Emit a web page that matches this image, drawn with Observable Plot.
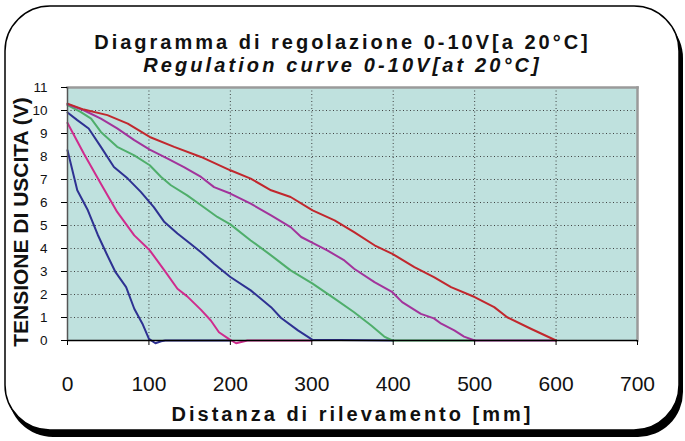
<!DOCTYPE html>
<html>
<head>
<meta charset="utf-8">
<script src="https://cdn.jsdelivr.net/npm/d3@7"></script>
<script src="https://cdn.jsdelivr.net/npm/@observablehq/plot@0.6"></script>
<style>
  html, body { margin: 0; padding: 0; background: #fff; }
  #wrap { position: relative; width: 685px; height: 441px; overflow: hidden; font-family: "Liberation Sans", Arial, sans-serif; }
  #bg { position: absolute; left: 0; top: 0; }
  #chart { position: absolute; left: 0; top: 0; }
  .ttl { position: absolute; left: 0; width: 685px; text-align: center; font-weight: bold; font-size: 20px; color: #111; white-space: nowrap; }
  #t1 { top: 31px; letter-spacing: 3px; }
  #t2 { top: 54px; font-style: italic; letter-spacing: 3.1px; }
  #chart svg text { fill: #111; }
  #chart g[aria-label="y-axis tick label"] text { font-family: "Liberation Sans Narrow", "Liberation Sans", Arial, sans-serif; font-size: 13.5px; }
  #chart g[aria-label="x-axis tick label"] text { font-family: "Liberation Sans Narrow", "Liberation Sans", Arial, sans-serif; font-size: 21px; }
  #chart g[aria-label="x-axis label"] text { font-family: "Liberation Sans", Arial, sans-serif; font-size: 20px; font-weight: bold; letter-spacing: 3px; }
</style>
</head>
<body>
<div id="wrap">
  <svg id="bg" width="685" height="441"></svg>
  <div id="chart"></div>
  <div class="ttl" id="t1"></div>
  <div class="ttl" id="t2"></div>
</div>
<script>
// ---- Data ----
const titleIt = "Diagramma di regolazione 0-10V[a 20°C]";
const titleEn = "Regulation curve 0-10V[at 20°C]";
const xLabel = "Distanza di rilevamento [mm]";
const yLabel = "TENSIONE DI USCITA (V)";
const xTicks = [0, 100, 200, 300, 400, 500, 600, 700];
const yTicks = [0, 1, 2, 3, 4, 5, 6, 7, 8, 9, 10, 11];

const seriesNames = ["100 mm", "200 mm", "300 mm", "400 mm", "500 mm", "600 mm"];
const seriesColors = ["#2e3192", "#cf2b8d", "#2e3192", "#4fae6b", "#a2339b", "#c1272d"];

const curve100 = [[0,8.27],[12,6.53],[25,5.66],[37,4.61],[48,3.77],[59,2.97],[72,2.32],[82,1.38],[92,0.73],[100,0.07],[108,-0.12],[115,-0.03],[120,0],[200,0]];
const curve200 = [[0,9.46],[20,8.13],[41,6.82],[61,5.59],[82,4.57],[101,3.92],[119,3.05],[135,2.25],[147,1.92],[164,1.33],[176,0.87],[186,0.36],[198,0.07],[207,-0.12],[221,0],[300,0]];
const curve300 = [[0,9.91],[12,9.58],[26,9.22],[41,8.42],[57,7.54],[74,7.04],[90,6.46],[106,5.80],[119,5.15],[135,4.65],[151,4.21],[164,3.84],[180,3.34],[200,2.76],[225,2.18],[250,1.45],[262,0.99],[283,0.44],[301,0.03],[400,0]];
const curve400 = [[0,10.23],[16,9.94],[29,9.65],[41,9.07],[61,8.42],[82,8.05],[101,7.62],[115,7.11],[127,6.75],[147,6.31],[164,5.88],[184,5.37],[200,5.05],[225,4.35],[250,3.70],[274,3.05],[301,2.47],[328,1.82],[352,1.23],[373,0.65],[389,0.17],[399,0],[500,0]];
const curve500 = [[0,10.27],[20,10.01],[41,9.65],[61,9.22],[82,8.71],[101,8.30],[123,7.91],[143,7.54],[164,7.11],[180,6.67],[200,6.39],[225,5.95],[250,5.44],[274,4.93],[287,4.50],[301,4.24],[319,3.92],[340,3.48],[352,3.12],[377,2.54],[399,2.10],[411,1.67],[434,1.16],[450,0.96],[459,0.73],[475,0.44],[487,0.17],[500,0],[600,0]];
const curve600 = [[0,10.3],[20,10.04],[49,9.80],[74,9.43],[101,8.85],[131,8.42],[164,7.98],[200,7.40],[225,7.04],[250,6.53],[274,6.24],[301,5.66],[328,5.22],[352,4.71],[377,4.14],[399,3.77],[426,3.19],[450,2.76],[471,2.32],[500,1.89],[524,1.45],[540,1.01],[569,0.51],[600,0]];

const curves = [curve100, curve200, curve300, curve400, curve500, curve600];

// ---- Build table ----
const rows = [];
curves.forEach((c, i) => c.forEach(([x, y]) => rows.push({x, y, s: seriesNames[i]})));

// ---- Background frame + rotated y title ----
const bg = d3.select("#bg");
bg.append("rect").attr("x", 8).attr("y", 13).attr("width", 675).attr("height", 424).attr("rx", 45).attr("ry", 45).attr("fill", "#000");
bg.append("rect").attr("x", 5).attr("y", 6).attr("width", 674).attr("height", 424).attr("rx", 45).attr("ry", 45).attr("fill", "#fff").attr("stroke", "#000").attr("stroke-width", 1.5);
bg.append("text")
  .attr("transform", "translate(28,222) rotate(-90)")
  .attr("text-anchor", "middle")
  .attr("font-family", "'Liberation Sans', Arial, sans-serif")
  .attr("font-size", 21)
  .attr("font-weight", "bold")
  .attr("fill", "#111")
  .text(yLabel);

document.getElementById("t1").textContent = titleIt;
document.getElementById("t2").textContent = titleEn;

const chart = Plot.plot({
  width: 685,
  height: 441,
  marginLeft: 67,
  marginRight: 48,
  marginTop: 87,
  marginBottom: 101,
  style: {background: "transparent", overflow: "visible"},
  x: {domain: [0, 700], ticks: xTicks},
  y: {domain: [0, 11], ticks: yTicks},
  color: {domain: seriesNames, range: seriesColors},
  marks: [
    Plot.frame({fill: "#bfe1de", stroke: null}),
    Plot.gridY(yTicks.filter(d => d > 0), {stroke: "#333", strokeOpacity: 0.9, strokeDasharray: "1,2.5", strokeWidth: 1}),
    Plot.gridX(xTicks.filter(d => d > 0 && d < 700), {stroke: "#333", strokeOpacity: 0.9, strokeDasharray: "1,2.5", strokeWidth: 1}),
    Plot.frame({stroke: "#9a9a9a", strokeWidth: 2.5, anchor: "top"}),
    Plot.frame({stroke: "#9a9a9a", strokeWidth: 2.5, anchor: "right"}),
    Plot.line(rows, {x: "x", y: "y", z: "s", stroke: "s", strokeWidth: 2, curve: "linear"}),
    Plot.ruleY([0], {stroke: "#000", strokeWidth: 1.5}),
    Plot.ruleX([0], {stroke: "#555", strokeWidth: 1.5}),
    Plot.axisX({ticks: xTicks, tickSize: 5, tickPadding: 31, tickFormat: d => String(d), label: xLabel, labelAnchor: "center", labelArrow: "none", labelOffset: 80, stroke: "#000"}),
    Plot.axisY({ticks: yTicks, tickSize: 6, tickPadding: 14, tickFormat: d => String(d), label: null, stroke: "#000"})
  ]
});
document.getElementById("chart").appendChild(chart);
</script>
</body>
</html>
